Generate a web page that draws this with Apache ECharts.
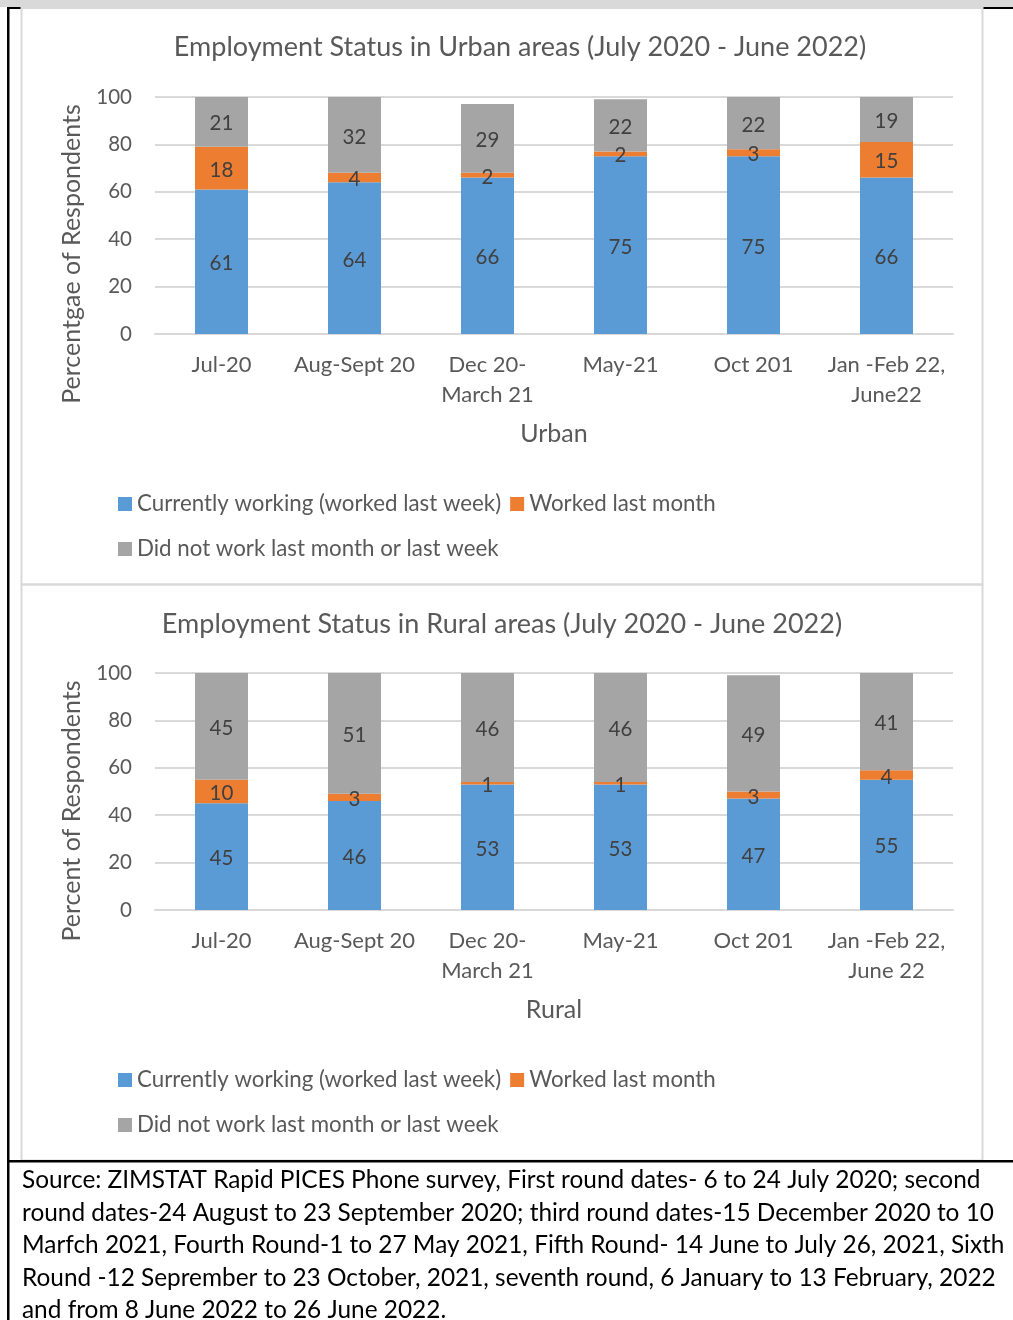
<!DOCTYPE html>
<html>
<head>
<meta charset="utf-8">
<script src="https://cdn.jsdelivr.net/npm/echarts@6/dist/echarts.min.js"></script>
<style>
  html, body { margin: 0; padding: 0; background: #ffffff; }
  #main { width: 1013px; height: 1320px; }
</style>
</head>
<body>
<div id="main"></div>
<script>
// Survey rounds (x-axis tick labels)
const urbanRounds = ['Jul-20', 'Aug-Sept 20', 'Dec 20-\nMarch 21', 'May-21', 'Oct 201', 'Jan -Feb 22,\nJune22'];
const ruralRounds = ['Jul-20', 'Aug-Sept 20', 'Dec 20-\nMarch 21', 'May-21', 'Oct 201', 'Jan -Feb 22,\nJune 22'];

const statusNames = [
  'Currently working (worked last week)',
  'Worked last month',
  'Did not work last month or last week'
];

// Urban shares (% of respondents)
const urbanWorking   = [61, 64, 66, 75, 75, 66];
const urbanLastMonth = [18, 4, 2, 2, 3, 15];
const urbanNotWorked = [21, 32, 29, 22, 22, 19];

// Rural shares (% of respondents)
const ruralWorking   = [45, 46, 53, 53, 47, 55];
const ruralLastMonth = [10, 3, 1, 1, 3, 4];
const ruralNotWorked = [45, 51, 46, 46, 49, 41];

// Value axis range
const yMin = 0, yMax = 100, yStep = 20;

const titles = [
  'Employment Status in Urban areas (July 2020 - June 2022)',
  'Employment Status in Rural areas (July 2020 - June 2022)'
];
const yAxisTitles = ['Percentgae of Respondents', 'Percent of Respondents'];
const xAxisTitles = ['Urban', 'Rural'];

const sourceLines = [
  'Source: ZIMSTAT Rapid PICES Phone survey, First round dates- 6 to 24 July 2020; second',
  'round dates-24 August to 23 September 2020; third round dates-15 December 2020 to 10',
  'Marfch 2021, Fourth Round-1 to 27 May 2021, Fifth Round- 14 June to July 26, 2021, Sixth',
  'Round -12 Seprember to 23 October, 2021, seventh round, 6 January to 13 February, 2022',
  'and from 8 June 2022 to 26 June 2022.'
];

const FONT = 'Lato, "Open Sans", sans-serif';
const TEXT = '#595959';
const LABEL = '#404040';
const GRIDLINE = '#d9d9d9';
const COLORS = ['#5B9BD5', '#ED7D31', '#A5A5A5'];

// Panel layout: second panel sits 576px below the first
const panels = [
  { top: 97, titleX: 520, titleY: 47, yTitleY: 254, legendRows: [504, 549] },
  { top: 673, titleX: 502, titleY: 624, yTitleY: 811, legendRows: [1080, 1125] }
];
const PLOT_H = 237;

const chart = echarts.init(document.getElementById('main'), null, { renderer: 'canvas' });

const grids = panels.map(p => ({ left: 155, right: 60, top: p.top, height: PLOT_H }));

const xAxes = [urbanRounds, ruralRounds].map((cats, i) => ({
  type: 'category',
  gridIndex: i,
  data: cats,
  axisTick: { show: false },
  axisLine: { show: true, lineStyle: { color: GRIDLINE, width: 2 } },
  axisLabel: { color: TEXT, fontFamily: FONT, fontSize: 22, lineHeight: 30, margin: 16, interval: 0 },
  name: xAxisTitles[i],
  nameLocation: 'middle',
  nameGap: 87,
  nameTextStyle: { color: TEXT, fontFamily: FONT, fontSize: 25 }
}));

const yAxes = panels.map((p, i) => ({
  type: 'value',
  gridIndex: i,
  min: yMin,
  max: yMax,
  interval: yStep,
  axisLine: { show: false },
  axisTick: { show: false },
  splitLine: { lineStyle: { color: GRIDLINE, width: 2 } },
  axisLabel: { color: TEXT, fontFamily: FONT, fontSize: 20.5, margin: 23 }
}));

function stackSeries(values, idx, panel) {
  return {
    type: 'bar',
    name: statusNames[idx],
    xAxisIndex: panel,
    yAxisIndex: panel,
    stack: 'panel' + panel,
    barWidth: 53,
    data: values,
    itemStyle: { color: COLORS[idx] },
    label: {
      show: true,
      position: 'inside',
      offset: [0, 2],
      color: LABEL,
      fontFamily: FONT,
      fontSize: 20.5
    }
  };
}

const series = [
  stackSeries(urbanWorking, 0, 0),
  stackSeries(urbanLastMonth, 1, 0),
  stackSeries(urbanNotWorked, 2, 0),
  stackSeries(ruralWorking, 0, 1),
  stackSeries(ruralLastMonth, 1, 1),
  stackSeries(ruralNotWorked, 2, 1)
];

const legendStyle = {
  orient: 'horizontal',
  left: 118,
  padding: 0,
  itemWidth: 14,
  itemHeight: 14,
  itemGap: 9,
  icon: 'rect',
  selectedMode: false,
  textStyle: { color: TEXT, fontFamily: FONT, fontSize: 22.3 }
};
const legends = [];
panels.forEach(p => {
  legends.push(Object.assign({}, legendStyle, { top: p.legendRows[0] - 11, data: [statusNames[0], statusNames[1]] }));
  legends.push(Object.assign({}, legendStyle, { top: p.legendRows[1] - 11, data: [statusNames[2]] }));
});

// Page frame, panel boxes, titles and footnote
const graphics = [
  { type: 'rect', shape: { x: 0, y: 0, width: 1013, height: 7 }, style: { fill: '#d9d9d9' }, silent: true },
  { type: 'rect', shape: { x: 7, y: 7, width: 15, height: 2 }, style: { fill: '#000' }, silent: true },
  { type: 'rect', shape: { x: 983, y: 7, width: 30, height: 2 }, style: { fill: '#000' }, silent: true },
  { type: 'rect', shape: { x: 7, y: 7, width: 2.5, height: 1313 }, style: { fill: '#000' }, silent: true },
  { type: 'rect', shape: { x: 21.5, y: 8, width: 961, height: 576.5 }, style: { fill: 'none', stroke: GRIDLINE, lineWidth: 2 }, silent: true },
  { type: 'rect', shape: { x: 21.5, y: 584.5, width: 961, height: 576 }, style: { fill: 'none', stroke: GRIDLINE, lineWidth: 2 }, silent: true },
  { type: 'rect', shape: { x: 7, y: 1160, width: 1006, height: 2.5 }, style: { fill: '#000' }, silent: true },
  {
    type: 'text', x: 22, y: 1164, silent: true,
    style: { text: sourceLines.join('\n'), fill: '#000', font: '24.4px ' + FONT, lineHeight: 32.5, textVerticalAlign: 'top' }
  }
];
panels.forEach((p, i) => {
  graphics.push({
    type: 'text', x: p.titleX, y: p.titleY, silent: true,
    style: { text: titles[i], fill: TEXT, font: '27px ' + FONT, textAlign: 'center', textVerticalAlign: 'middle' }
  });
  graphics.push({
    type: 'text', x: 72, y: p.yTitleY, rotation: Math.PI / 2, silent: true,
    style: { text: yAxisTitles[i], fill: TEXT, font: '25px ' + FONT, textAlign: 'center', textVerticalAlign: 'middle' }
  });
});

chart.setOption({
  animation: false,
  backgroundColor: '#ffffff',
  grid: grids,
  xAxis: xAxes,
  yAxis: yAxes,
  legend: legends,
  series: series,
  graphic: graphics
});
</script>
</body>
</html>
